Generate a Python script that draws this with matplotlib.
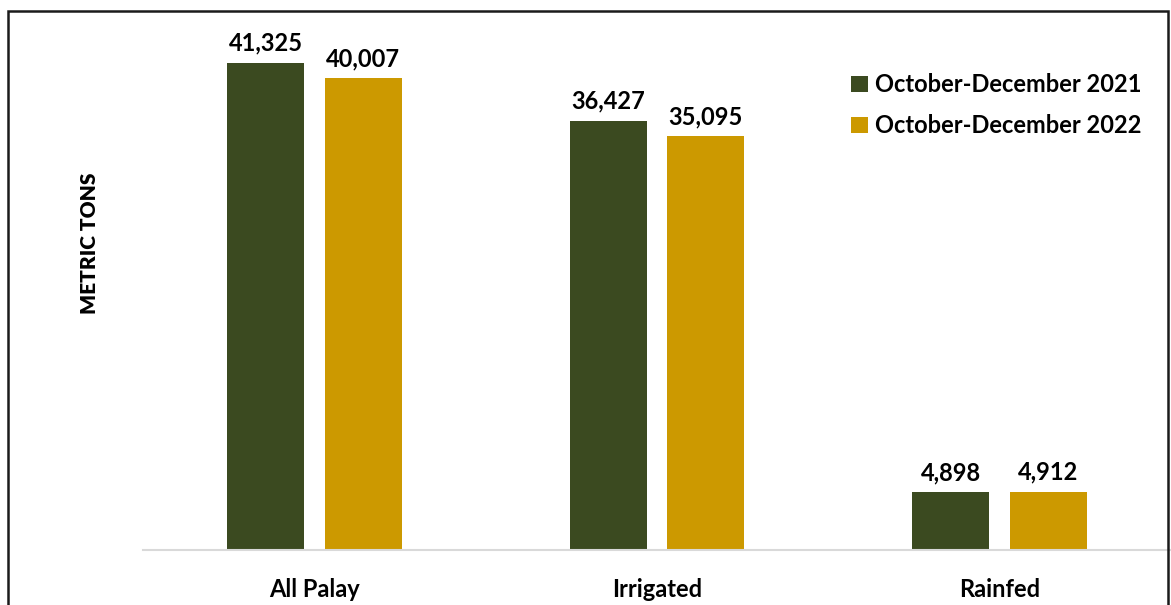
import matplotlib
matplotlib.use("Agg")
import matplotlib.pyplot as plt
from matplotlib.patches import Rectangle
import numpy as np

categories = ["All Palay", "Irrigated", "Rainfed"]
series_names = ["October-December 2021", "October-December 2022"]
values_2021 = [41325, 36427, 4898]
values_2022 = [40007, 35095, 4912]
y_label = "METRIC TONS"

colors = ["#3B4A20", "#CC9900"]
plt.rcParams['font.family'] = ['Lato', 'DejaVu Sans']

fig = plt.figure(figsize=(11.71, 6.05), dpi=100)
ax = fig.add_axes([143/1171, 55/605, 1 - 143/1171, 530.5/605])

x = np.arange(len(categories))
w = 0.224
off = 0.1425
b1 = ax.bar(x - off, values_2021, w, color=colors[0], label=series_names[0])
b2 = ax.bar(x + off, values_2022, w, color=colors[1], label=series_names[1])

for bars, vals in ((b1, values_2021), (b2, values_2022)):
    for r, v in zip(bars, vals):
        ax.annotate(f"{v:,}", (r.get_x() + r.get_width()/2, r.get_height()),
                    xytext=(0, 6), textcoords="offset points",
                    ha="center", va="bottom", fontsize=17, fontweight="bold")

ax.set_xlim(-0.5, 2.5)
ax.set_ylim(0, 45000)
for s in ("top", "right", "left"):
    ax.spines[s].set_visible(False)
ax.spines["bottom"].set_color("#D9D9D9")
ax.spines["bottom"].set_linewidth(1.5)
ax.set_yticks([])
ax.set_xticks(x)
ax.set_xticklabels(categories, fontsize=17, fontweight="bold")
ax.tick_params(axis="x", length=0, pad=20)

fig.text(90/1171, 1 - 243/605, y_label, rotation=90, ha="center", va="center",
         fontsize=15, fontweight="heavy")

leg = fig.legend(loc="upper left", bbox_to_anchor=(842/1171, 1 - 64/605),
                 frameon=False, prop={"weight": "bold", "size": 17},
                 handlelength=0.7, handleheight=0.7, handletextpad=0.3,
                 labelspacing=0.75, borderaxespad=0)

fig.patches.append(Rectangle((8/1171, -0.02), 1160/1171, 1.02 - 11/605,
                             transform=fig.transFigure, fill=False,
                             edgecolor="#1a1a1a", linewidth=1.8))

fig.savefig("out.png", dpi=100)
